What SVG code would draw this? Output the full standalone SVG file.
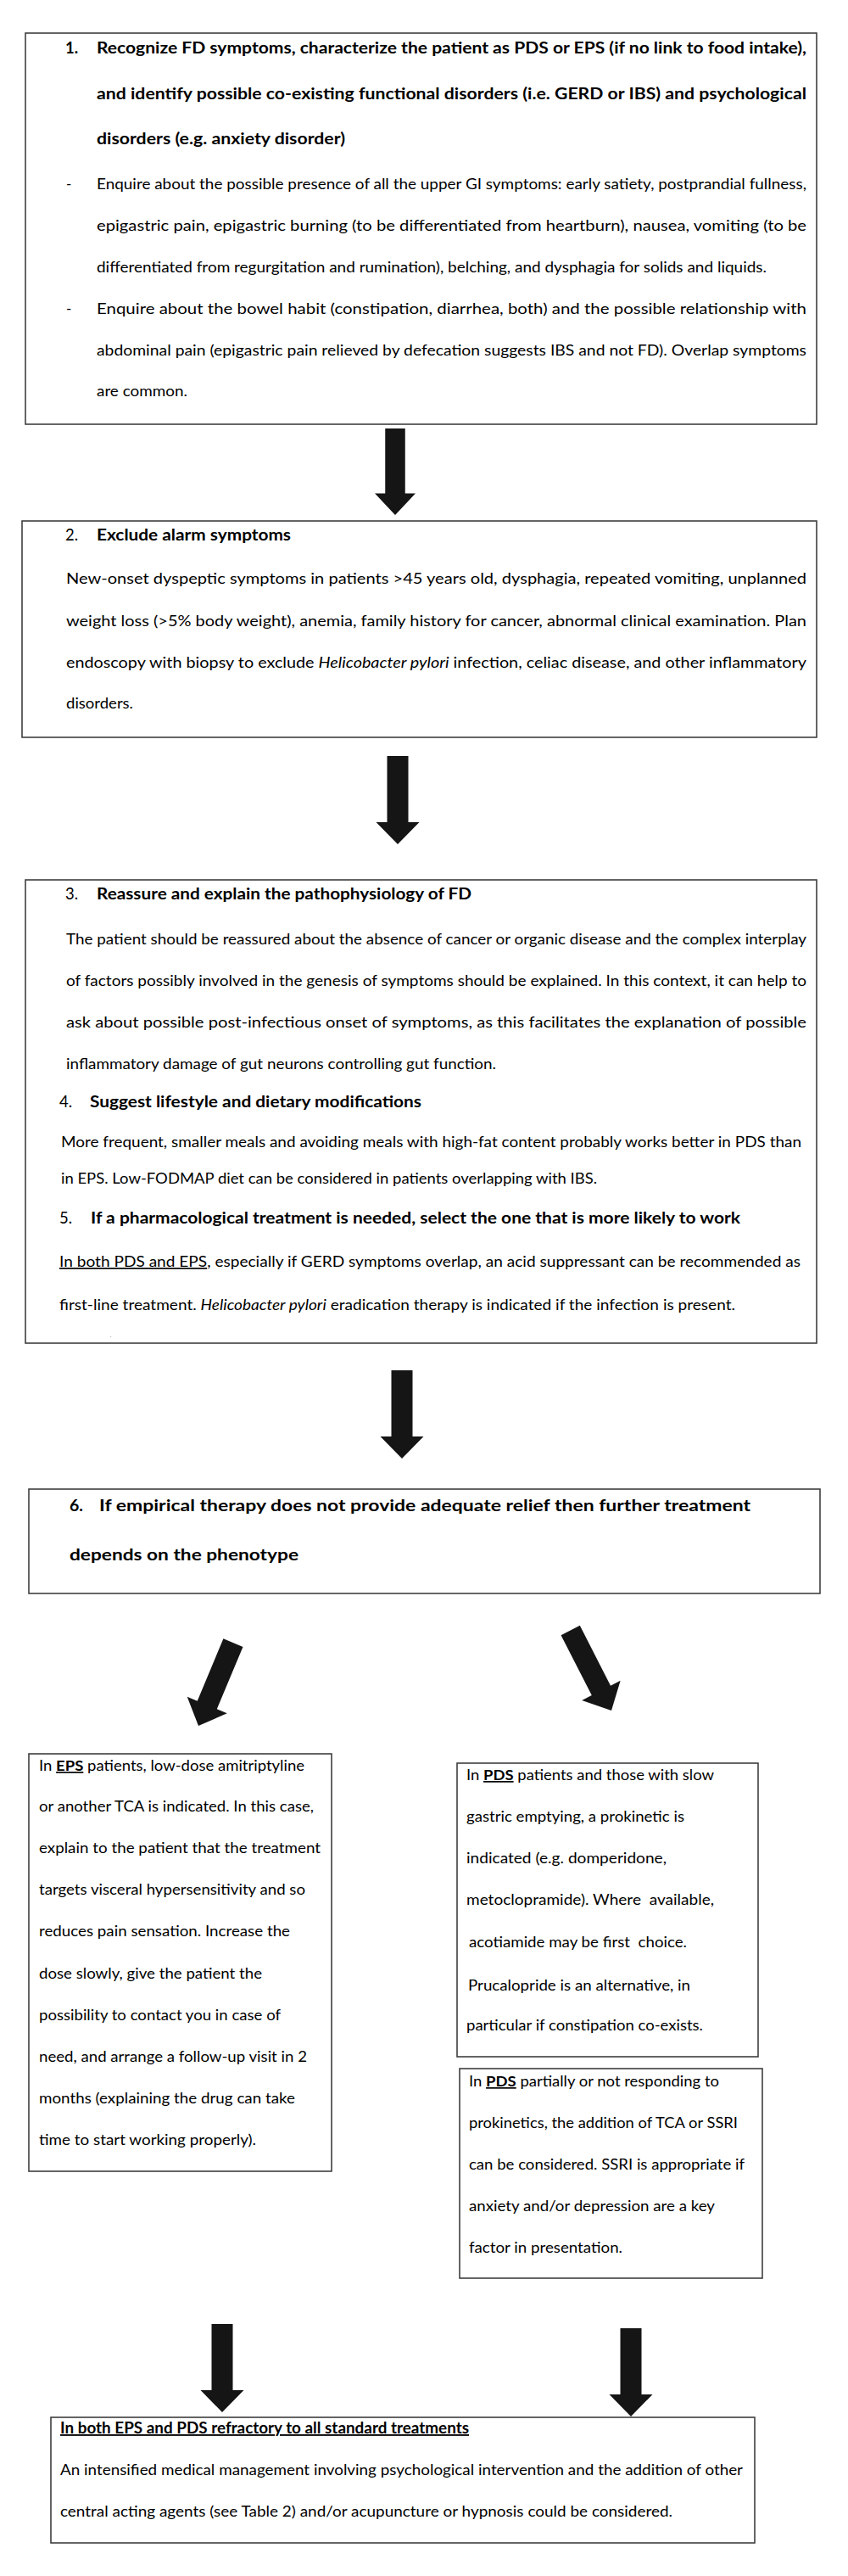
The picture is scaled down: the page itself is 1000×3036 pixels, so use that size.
<svg xmlns="http://www.w3.org/2000/svg" xmlns:xlink="http://www.w3.org/1999/xlink" width="1000" height="3036" viewBox="0 0 1000 3036">
<style>
.bg{fill:#ffffff}
.box{fill:#ffffff;stroke:#3f3f3f;stroke-width:1.6}
.t{font-family:Lato,"Liberation Sans",sans-serif;font-size:17px;fill:#000000}
.h{font-size:18.5px;font-weight:bold}
.n{font-size:18.5px}
.h6{font-family:Lato,"Liberation Sans",sans-serif;font-size:19.5px;font-weight:bold;fill:#000000}
.b{font-weight:bold}
.u{text-decoration:underline}
.i{font-style:italic}
.arr{fill:#151515}
</style>
<defs>
<path id="arrow" d="M-12.5,-104 H12.5 V-26 H25.5 L0,0 L-25.5,-26 H-12.5 Z"/>
</defs>
<rect class="bg" x="0" y="0" width="1000" height="3036"/>

<g id="connectors">
<use xlink:href="#arrow" class="arr" transform="translate(466,607) scale(0.94,0.98)"/>
<use xlink:href="#arrow" class="arr" transform="translate(469,995)"/>
<use xlink:href="#arrow" class="arr" transform="translate(474,1719)"/>
<use xlink:href="#arrow" class="arr" transform="translate(234,2034) rotate(22.7) scale(1,1.02)"/>
<use xlink:href="#arrow" class="arr" transform="translate(721,2016) rotate(-27.1) scale(1,1.02)"/>
<use xlink:href="#arrow" class="arr" transform="translate(262,2843)"/>
<use xlink:href="#arrow" class="arr" transform="translate(744,2848)"/>
</g>

<g id="step1">
<rect class="box" x="30" y="39" width="933" height="461"/>
<text class="t h" x="77" y="63">1.</text>
<text class="t h" x="114" y="63" textLength="837" lengthAdjust="spacingAndGlyphs">Recognize FD symptoms, characterize the patient as PDS or EPS (if no link to food intake),</text>
<text class="t h" x="114" y="117" textLength="837" lengthAdjust="spacingAndGlyphs">and identify possible co-existing functional disorders (i.e. GERD or IBS) and psychological</text>
<text class="t h" x="114" y="170" textLength="293" lengthAdjust="spacingAndGlyphs">disorders (e.g. anxiety disorder)</text>
<text class="t" x="78" y="223">-</text>
<text class="t" x="114" y="223" textLength="837" lengthAdjust="spacingAndGlyphs">Enquire about the possible presence of all the upper GI symptoms: early satiety, postprandial fullness,</text>
<text class="t" x="114" y="272" textLength="837" lengthAdjust="spacingAndGlyphs">epigastric pain, epigastric burning (to be differentiated from heartburn), nausea, vomiting (to be</text>
<text class="t" x="114" y="321" textLength="790" lengthAdjust="spacingAndGlyphs">differentiated from regurgitation and rumination), belching, and dysphagia for solids and liquids.</text>
<text class="t" x="78" y="370">-</text>
<text class="t" x="114" y="370" textLength="837" lengthAdjust="spacingAndGlyphs">Enquire about the bowel habit (constipation, diarrhea, both) and the possible relationship with</text>
<text class="t" x="114" y="419" textLength="837" lengthAdjust="spacingAndGlyphs">abdominal pain (epigastric pain relieved by defecation suggests IBS and not FD). Overlap symptoms</text>
<text class="t" x="114" y="467" textLength="107" lengthAdjust="spacingAndGlyphs">are common.</text>
</g>

<g id="step2">
<rect class="box" x="26" y="614" width="937" height="255"/>
<text class="t n" x="77" y="637">2.</text>
<text class="t h" x="114" y="637" textLength="229" lengthAdjust="spacingAndGlyphs">Exclude alarm symptoms</text>
<text class="t" x="78" y="688" textLength="873" lengthAdjust="spacingAndGlyphs">New-onset dyspeptic symptoms in patients &gt;45 years old, dysphagia, repeated vomiting, unplanned</text>
<text class="t" x="78" y="738" textLength="873" lengthAdjust="spacingAndGlyphs">weight loss (&gt;5% body weight), anemia, family history for cancer, abnormal clinical examination. Plan</text>
<text class="t" x="78" y="787" textLength="873" lengthAdjust="spacingAndGlyphs">endoscopy with biopsy to exclude <tspan class="i">Helicobacter pylori</tspan> infection, celiac disease, and other inflammatory</text>
<text class="t" x="78" y="835" textLength="79" lengthAdjust="spacingAndGlyphs">disorders.</text>
</g>

<g id="step3to5">
<rect class="box" x="30" y="1037" width="933" height="546"/>
<text class="t n" x="77" y="1060">3.</text>
<text class="t h" x="114" y="1060" textLength="442" lengthAdjust="spacingAndGlyphs">Reassure and explain the pathophysiology of FD</text>
<text class="t" x="78" y="1113" textLength="873" lengthAdjust="spacingAndGlyphs">The patient should be reassured about the absence of cancer or organic disease and the complex interplay</text>
<text class="t" x="78" y="1162" textLength="873" lengthAdjust="spacingAndGlyphs">of factors possibly involved in the genesis of symptoms should be explained. In this context, it can help to</text>
<text class="t" x="78" y="1211" textLength="873" lengthAdjust="spacingAndGlyphs">ask about possible post-infectious onset of symptoms, as this facilitates the explanation of possible</text>
<text class="t" x="78" y="1260" textLength="507" lengthAdjust="spacingAndGlyphs">inflammatory damage of gut neurons controlling gut function.</text>
<text class="t n" x="70" y="1305">4.</text>
<text class="t h" x="106" y="1305" textLength="391" lengthAdjust="spacingAndGlyphs">Suggest lifestyle and dietary modifications</text>
<text class="t" x="72" y="1352" textLength="873" lengthAdjust="spacingAndGlyphs">More frequent, smaller meals and avoiding meals with high-fat content probably works better in PDS than</text>
<text class="t" x="72" y="1395" textLength="632" lengthAdjust="spacingAndGlyphs">in EPS. Low-FODMAP diet can be considered in patients overlapping with IBS.</text>
<text class="t n" x="70" y="1442">5.</text>
<text class="t h" x="107" y="1442" textLength="766" lengthAdjust="spacingAndGlyphs">If a pharmacological treatment is needed, select the one that is more likely to work</text>
<text class="t" x="70" y="1493" textLength="874" lengthAdjust="spacingAndGlyphs"><tspan class="u">In both PDS and EPS</tspan>, especially if GERD symptoms overlap, an acid suppressant can be recommended as</text>
<text class="t" x="70" y="1544" textLength="797" lengthAdjust="spacingAndGlyphs">first-line treatment. <tspan class="i">Helicobacter pylori</tspan> eradication therapy is indicated if the infection is present.</text>
<text class="t" x="130" y="1576" style="font-size:5px">.</text>
</g>

<g id="step6">
<rect class="box" x="34" y="1755" width="933" height="123"/>
<text class="h6" x="82" y="1781">6.</text>
<text class="h6" x="117" y="1781" textLength="768" lengthAdjust="spacingAndGlyphs">If empirical therapy does not provide adequate relief then further treatment</text>
<text class="h6" x="82" y="1839" textLength="270" lengthAdjust="spacingAndGlyphs">depends on the phenotype</text>
</g>

<g id="eps">
<rect class="box" x="34" y="2067" width="357" height="492"/>
<text class="t" x="46" y="2087" textLength="313" lengthAdjust="spacingAndGlyphs">In <tspan class="b u">EPS</tspan> patients, low-dose amitriptyline</text>
<text class="t" x="46" y="2135" textLength="324" lengthAdjust="spacingAndGlyphs">or another TCA is indicated. In this case,</text>
<text class="t" x="46" y="2184" textLength="332" lengthAdjust="spacingAndGlyphs">explain to the patient that the treatment</text>
<text class="t" x="46" y="2233" textLength="314" lengthAdjust="spacingAndGlyphs">targets visceral hypersensitivity and so</text>
<text class="t" x="46" y="2282" textLength="296" lengthAdjust="spacingAndGlyphs">reduces pain sensation. Increase the</text>
<text class="t" x="46" y="2332" textLength="263" lengthAdjust="spacingAndGlyphs">dose slowly, give the patient the</text>
<text class="t" x="46" y="2381" textLength="285" lengthAdjust="spacingAndGlyphs">possibility to contact you in case of</text>
<text class="t" x="46" y="2430" textLength="316" lengthAdjust="spacingAndGlyphs">need, and arrange a follow-up visit in 2</text>
<text class="t" x="46" y="2479" textLength="302" lengthAdjust="spacingAndGlyphs">months (explaining the drug can take</text>
<text class="t" x="46" y="2528" textLength="256" lengthAdjust="spacingAndGlyphs">time to start working properly).</text>
</g>

<g id="pds-prokinetic">
<rect class="box" x="539" y="2078" width="355" height="346"/>
<text class="t" x="550" y="2098" textLength="292" lengthAdjust="spacingAndGlyphs">In <tspan class="b u">PDS</tspan> patients and those with slow</text>
<text class="t" x="550" y="2147" textLength="257" lengthAdjust="spacingAndGlyphs">gastric emptying, a prokinetic is</text>
<text class="t" x="550" y="2196" textLength="236" lengthAdjust="spacingAndGlyphs">indicated (e.g. domperidone,</text>
<text class="t" x="550" y="2245" textLength="292" lengthAdjust="spacingAndGlyphs" xml:space="preserve">metoclopramide). Where  available,</text>
<text class="t" x="553" y="2295" textLength="257" lengthAdjust="spacingAndGlyphs" xml:space="preserve">acotiamide may be first  choice.</text>
<text class="t" x="552" y="2346" textLength="262" lengthAdjust="spacingAndGlyphs">Prucalopride is an alternative, in</text>
<text class="t" x="550" y="2393" textLength="279" lengthAdjust="spacingAndGlyphs">particular if constipation co-exists.</text>
</g>

<g id="pds-refractory">
<rect class="box" x="542" y="2438" width="357" height="247"/>
<text class="t" x="553" y="2459" textLength="295" lengthAdjust="spacingAndGlyphs">In <tspan class="b u">PDS</tspan> partially or not responding to</text>
<text class="t" x="553" y="2508" textLength="317" lengthAdjust="spacingAndGlyphs">prokinetics, the addition of TCA or SSRI</text>
<text class="t" x="553" y="2557" textLength="325" lengthAdjust="spacingAndGlyphs">can be considered. SSRI is appropriate if</text>
<text class="t" x="553" y="2606" textLength="290" lengthAdjust="spacingAndGlyphs">anxiety and/or depression are a key</text>
<text class="t" x="553" y="2655" textLength="181" lengthAdjust="spacingAndGlyphs">factor in presentation.</text>
</g>

<g id="refractory-both">
<rect class="box" x="60" y="2849" width="830" height="148"/>
<text class="t h u" x="71" y="2868" textLength="482" lengthAdjust="spacingAndGlyphs">In both EPS and PDS refractory to all standard treatments</text>
<text class="t" x="71" y="2917" textLength="805" lengthAdjust="spacingAndGlyphs">An intensified medical management involving psychological intervention and the addition of other</text>
<text class="t" x="71" y="2966" textLength="722" lengthAdjust="spacingAndGlyphs">central acting agents (see Table 2) and/or acupuncture or hypnosis could be considered.</text>
</g>
</svg>
